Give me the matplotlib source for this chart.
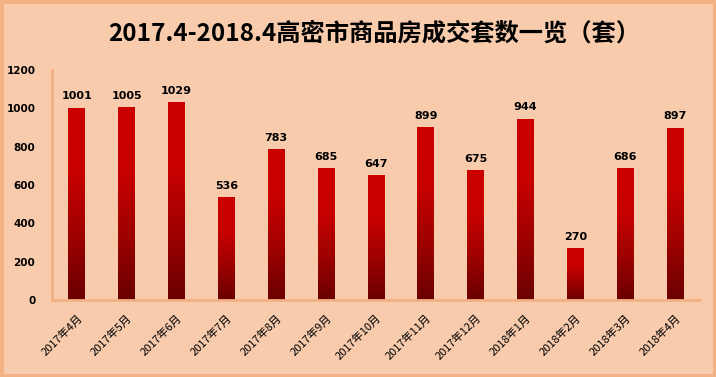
import matplotlib.pyplot as plt
import numpy as np
from matplotlib.colors import LinearSegmentedColormap
from matplotlib.patches import Rectangle

plt.rcParams['font.family'] = ['Noto Sans CJK SC', 'DejaVu Sans']

months = ["2017年4月", "2017年5月", "2017年6月", "2017年7月", "2017年8月", "2017年9月",
          "2017年10月", "2017年11月", "2017年12月", "2018年1月", "2018年2月", "2018年3月",
          "2018年4月"]
sales = [1001, 1005, 1029, 536, 783, 685, 647, 899, 675, 944, 270, 686, 897]
yticks = [0, 200, 400, 600, 800, 1000, 1200]

bg = "#F8CBAD"
fig = plt.figure(figsize=(7.16, 3.77), dpi=100, facecolor=bg)
fig.patches.append(Rectangle((0, 0), 1, 1, transform=fig.transFigure, fill=False,
                             edgecolor="#F4B183", linewidth=5))
ax = fig.add_axes([52 / 716, 77 / 377, 648 / 716, 230 / 377])
ax.set_facecolor(bg)

cmap = LinearSegmentedColormap.from_list("bar", ["#6A0000", "#9E0000", "#C80000", "#CC0000"])
grad = np.linspace(0, 1, 256).reshape(-1, 1)
width = 0.34
for i, v in enumerate(sales):
    ax.imshow(grad, cmap=cmap, origin="lower", aspect="auto",
              extent=(i - width / 2, i + width / 2, 0, v), zorder=2)
    ax.text(i, v + 35, str(v), ha="center", va="bottom", fontsize=8, fontweight="bold",
            family=["DejaVu Sans"])

ax.set_xlim(-0.5, len(months) - 0.5)
ax.set_ylim(0, 1200)
ax.set_yticks(yticks)
ax.set_yticklabels([str(t) for t in yticks], fontsize=7.5, fontweight="bold",
                   family=["DejaVu Sans"])
ax.set_xticks(range(len(months)))
ax.set_xticklabels(months, rotation=45, ha="right", rotation_mode="anchor", fontsize=8,
                   family=["Noto Sans CJK SC"])
ax.tick_params(axis="y", length=0, pad=12)
ax.tick_params(axis="x", length=0, pad=9)
for s in ["top", "right"]:
    ax.spines[s].set_visible(False)
for s in ["left", "bottom"]:
    ax.spines[s].set_color("#F4B183")
    ax.spines[s].set_linewidth(2)

fig.text(0.523, 0.91, "2017.4-2018.4高密市商品房成交套数一览（套）", ha="center", va="center",
         fontsize=17.5, fontweight="bold")

fig.savefig("out.png", dpi=100, facecolor=bg)
